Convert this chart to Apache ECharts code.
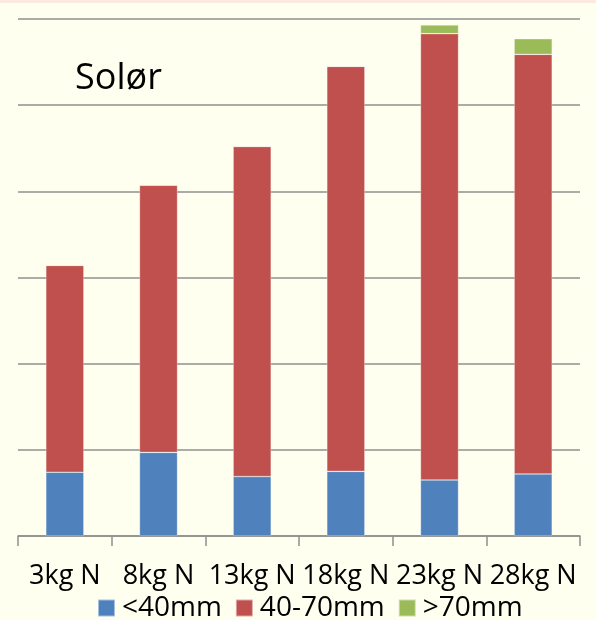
<!DOCTYPE html>
<html>
<head>
<meta charset="utf-8">
<script src="https://cdn.jsdelivr.net/npm/echarts@6/dist/echarts.min.js"></script>
<style>
  html, body { margin: 0; padding: 0; background: #fffff0; }
  #chart { width: 596px; height: 620px; }
</style>
</head>
<body>
<div id="chart"></div>
<script>
// values, one gridline = 10 units
const categories = ['3kg N', '8kg N', '13kg N', '18kg N', '23kg N', '28kg N'];
const under40 = [7.4, 9.7, 6.9, 7.5, 6.5, 7.2];
const mid40to70 = [24.0, 31.0, 38.3, 47.0, 51.8, 48.7];
const over70 = [0, 0, 0, 0, 1.0, 1.8];
const seriesNames = ['<40mm', '40-70mm', '>70mm'];
const colors = ['#4f81bd', '#c0504d', '#9bbb59'];

const font = 'Open Sans';
const chart = echarts.init(document.getElementById('chart'));

function barSeries(name, data, color) {
    return {
        name: name,
        type: 'bar',
        stack: 'total',
        data: data,
        barWidth: 38,
        itemStyle: { color: color, borderColor: 'rgba(255,255,255,0.5)', borderWidth: 0.6 },
        emphasis: { disabled: true }
    };
}

chart.setOption({
    backgroundColor: '#fffff0',
    animation: false,
    graphic: [{
        type: 'rect',
        left: 0,
        top: 0,
        shape: { width: 596, height: 3 },
        style: { fill: '#fdeadf' }
    }],
    title: {
        text: 'Solør',
        left: 70,
        top: 56,
        textStyle: { fontFamily: font, fontSize: 36, fontWeight: 'normal', color: '#000' }
    },
    legend: {
        data: seriesNames,
        left: 92,
        top: 589,
        icon: 'rect',
        itemWidth: 17,
        itemHeight: 17,
        itemGap: 13,
        textStyle: { fontFamily: font, fontSize: 28, color: '#000', padding: [0, 0, 0, 2] }
    },
    grid: { left: 18, right: 16, top: 19, bottom: 84 },
    xAxis: {
        type: 'category',
        data: categories,
        axisLine: { lineStyle: { color: '#8f8f8f', width: 1.5 } },
        axisTick: { show: true, length: 10, lineStyle: { color: '#8f8f8f', width: 1.5 } },
        axisLabel: { fontFamily: font, fontSize: 27, color: '#000', margin: 27, interval: 0 }
    },
    yAxis: {
        type: 'value',
        min: 0,
        max: 60,
        interval: 10,
        axisLine: { show: false },
        axisTick: { show: false },
        axisLabel: { show: false },
        splitLine: { lineStyle: { color: '#8f8f8f', width: 1.5 } }
    },
    series: [
        barSeries(seriesNames[0], under40, colors[0]),
        barSeries(seriesNames[1], mid40to70, colors[1]),
        barSeries(seriesNames[2], over70, colors[2])
    ]
});
</script>
</body>
</html>
